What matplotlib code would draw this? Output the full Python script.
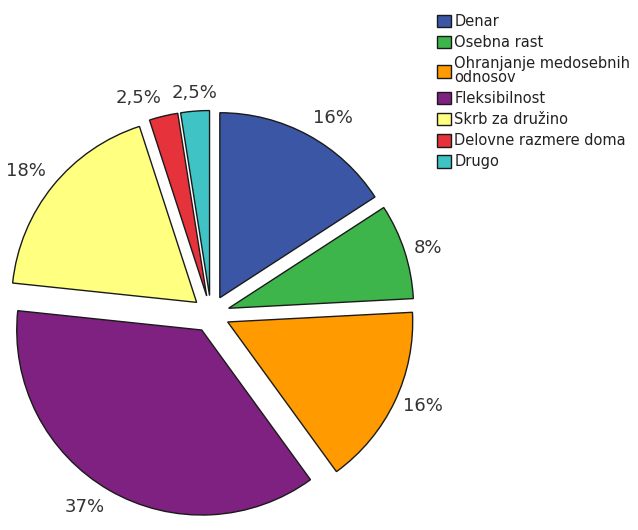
import numpy as np
import matplotlib.pyplot as plt

plt.rcParams['font.family'] = ['DejaVu Sans']

# categories, response counts (n = 120) and the percentage labels shown
categories = ['Denar', 'Osebna rast', 'Ohranjanje medosebnih\nodnosov',
              'Fleksibilnost', 'Skrb za družino', 'Delovne razmere doma', 'Drugo']
counts = [19, 10, 19, 44, 22, 3, 3]
pct_labels = ['16%', '8%', '16%', '37%', '18%', '2,5%', '2,5%']
colors = ['#3b56a5', '#3db54a', '#ff9a00', '#7e2180', '#ffff80', '#e5323b', '#40c3c4']

W, H = 638, 530
R = 185.0          # pie radius in px
cx, cy = 211, 314  # pie center in px (from top-left)
expl = 0.1

fig = plt.figure(figsize=(W / 100, H / 100), dpi=100)
ax = fig.add_axes([0, 0, 1, 1])

wedges, _ = ax.pie(
    counts, colors=colors, startangle=90, counterclock=False,
    explode=[expl] * len(counts),
    wedgeprops=dict(edgecolor='#1a1a1a', linewidth=1.0))

# labels outside, anchored by the edge facing the pie
for w, lab in zip(wedges, pct_labels):
    th = np.deg2rad((w.theta1 + w.theta2) / 2)
    c, s = np.cos(th), np.sin(th)
    d = 1.05
    x = (expl + d) * c
    y = (expl + d) * s
    ha = 'left' if c > 0.15 else ('right' if c < -0.15 else 'center')
    va = 'bottom' if s > 0.5 else ('top' if s < -0.5 else 'center')
    ax.text(x, y, lab, ha=ha, va=va, fontsize=13, color='#333333')

ax.set_xlim(-cx / R, (W - cx) / R)
ax.set_ylim(-(H - cy) / R, cy / R)
ax.set_aspect('auto')
ax.axis('off')

leg = fig.legend(wedges, categories, loc='upper left',
                 bbox_to_anchor=(431 / W, 1 - 8 / H),
                 frameon=False, fontsize=10.5, handlelength=0.95, handleheight=0.95,
                 handletextpad=0.25, labelspacing=0.42, borderaxespad=0)
for t in leg.get_texts():
    t.set_color('#222222')
    t.set_linespacing(0.9)

fig.savefig('out.png', dpi=100)
